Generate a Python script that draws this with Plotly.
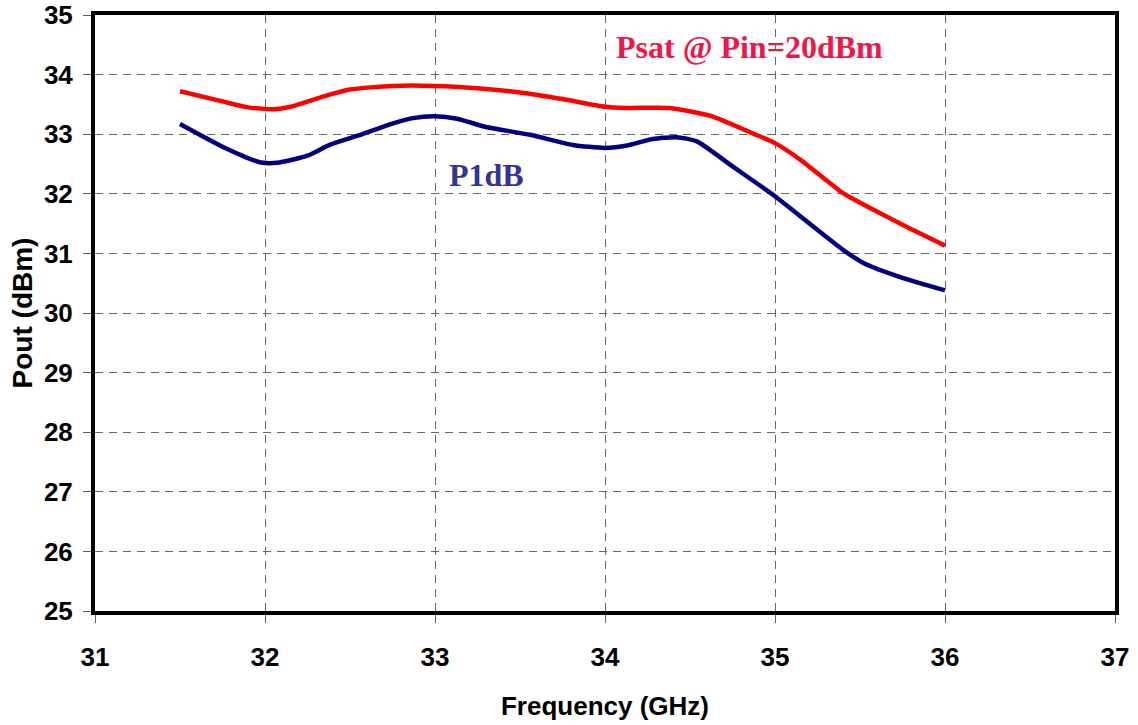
import plotly.graph_objects as go

# Psat @ Pin=20dBm
psat_freq = [31.5, 31.75, 31.9, 32.05, 32.15, 32.35, 32.5, 32.75, 33.0, 33.25, 33.5, 33.75,
             34.0, 34.13, 34.38, 34.63, 34.88, 35.0, 35.15, 35.4, 35.52, 35.77, 36.0]
psat_vals = [33.72, 33.55, 33.45, 33.42, 33.46, 33.64, 33.75, 33.81, 33.81, 33.77, 33.70, 33.59,
             33.46, 33.44, 33.44, 33.30, 33.00, 32.85, 32.57, 32.01, 31.82, 31.45, 31.13]

# P1dB
p1db_freq = [31.5, 31.75, 31.97, 32.07, 32.25, 32.38, 32.54, 32.74, 32.87, 33.0, 33.13, 33.3,
             33.56, 33.81, 34.0, 34.13, 34.28, 34.42, 34.54, 34.75, 35.0, 35.15, 35.4, 35.52,
             35.75, 36.0]
p1db_vals = [33.17, 32.79, 32.53, 32.52, 32.64, 32.82, 32.97, 33.17, 33.27, 33.30, 33.26, 33.12,
             32.99, 32.82, 32.77, 32.81, 32.92, 32.95, 32.88, 32.46, 31.96, 31.62, 31.06, 30.84,
             30.59, 30.38]

x_ticks = [31, 32, 33, 34, 35, 36, 37]
y_ticks = [25, 26, 27, 28, 29, 30, 31, 32, 33, 34, 35]

SANS = "Liberation Sans, Arial, sans-serif"
SERIF = "Liberation Serif, Times New Roman, serif"

fig = go.Figure()
fig.add_trace(go.Scatter(x=psat_freq, y=psat_vals, mode="lines",
                         line=dict(color="#FF0000", width=4.5, shape="spline", smoothing=0.6),
                         name="Psat"))
fig.add_trace(go.Scatter(x=p1db_freq, y=p1db_vals, mode="lines",
                         line=dict(color="#000080", width=4.5, shape="spline", smoothing=0.6),
                         name="P1dB"))

fig.add_annotation(x=34.85, y=34.46, xref="x", yref="y", text="Psat @ Pin=20dBm",
                   showarrow=False, font=dict(family=SERIF, size=32, color="#EE1848", weight="bold"))
fig.add_annotation(x=33.30, y=32.32, xref="x", yref="y", text="P1dB",
                   showarrow=False, font=dict(family=SERIF, size=32, color="#333399", weight="bold"))

axis_common = dict(
    showline=True, linecolor="black", linewidth=4, mirror=True,
    showgrid=True, gridcolor="#666666", gridwidth=1, griddash="8px,6px",
    ticks="outside", ticklen=8, tickcolor="#606060", tickwidth=1,
    zeroline=False, automargin=False,
    tickfont=dict(family=SANS, size=26, color="black", weight="bold"),
)

fig.update_xaxes(range=[31, 37], tickvals=x_ticks, ticktext=[str(v) for v in x_ticks],
                 title=dict(text="Frequency (GHz)", standoff=27,
                            font=dict(family=SANS, size=26, color="black", weight="bold")),
                 ticklabelstandoff=12, **axis_common)
fig.update_yaxes(range=[25, 35], tickvals=y_ticks, ticktext=[str(v) for v in y_ticks],
                 title=dict(text="Pout (dBm)", standoff=4,
                            font=dict(family=SANS, size=28, color="black", weight="bold")),
                 ticklabelstandoff=5, **axis_common)

fig.update_layout(
    width=1138, height=725,
    margin=dict(l=95, r=23, t=15, b=114),
    paper_bgcolor="white", plot_bgcolor="white",
    showlegend=False,
)

fig.write_html("out.html", config={"displayModeBar": False},
               post_script="document.body.style.margin='0';")
